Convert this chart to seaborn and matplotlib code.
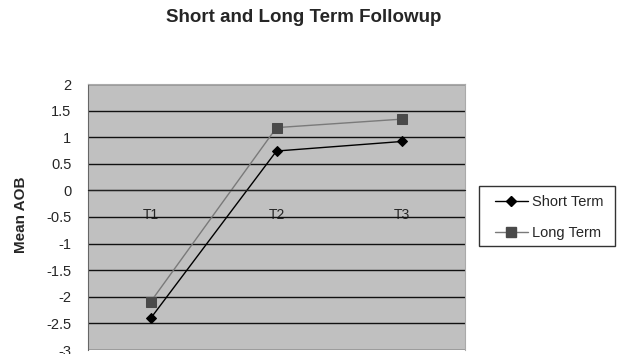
import matplotlib
matplotlib.use("Agg")
import matplotlib.pyplot as plt
import seaborn as sns
import pandas as pd
from matplotlib.ticker import FixedLocator
from matplotlib.lines import Line2D
from matplotlib.patches import Rectangle

categories = ["T1", "T2", "T3"]
short_term = [-2.40, 0.74, 0.92]
long_term = [-2.09, 1.18, 1.34]
series_names = ["Short Term", "Long Term"]
y_ticks = [2, 1.5, 1, 0.5, 0, -0.5, -1, -1.5, -2, -2.5, -3]

df = pd.DataFrame({
    "pos": list(range(len(categories))) * 2,
    "value": short_term + long_term,
    "series": [series_names[0]] * 3 + [series_names[1]] * 3,
})

sns.set_style("white")
plt.rcParams["font.family"] = ["Liberation Sans", "DejaVu Sans"]

W, H = 617, 354
fig = plt.figure(figsize=(W / 100, H / 100), dpi=100)
ax = fig.add_axes([88 / W, (H - 350) / H, (465 - 88) / W, (350 - 84) / H])
ax.set_facecolor("#c0c0c0")

sns.lineplot(data=df, x="pos", y="value", hue="series", style="series",
             palette={"Short Term": "#000000", "Long Term": "#7a7a7a"},
             markers={"Short Term": "D", "Long Term": "s"}, dashes=False,
             markersize=6, linewidth=1.0, ax=ax, legend=False)
for line, mfc, ms in zip(ax.get_lines(), ["#000000", "#4a4a4a"], [5, 7]):
    line.set_markerfacecolor(mfc)
    line.set_markeredgecolor(mfc)
    line.set_markersize(ms)

ax.set_xlim(-0.5, 2.5)
ax.set_ylim(-3, 2)
ax.set_yticks(y_ticks)
ax.set_yticklabels([f"{v:g}" for v in y_ticks], fontsize=10.5)
ax.yaxis.grid(True, color="#111111", linewidth=1.0)
ax.set_axisbelow(True)

ax.set_xticks(range(len(categories)))
ax.set_xticklabels(categories, fontsize=10.5, color="#222222")
ax.xaxis.set_minor_locator(FixedLocator([0.5, 1.5]))
ax.tick_params(axis="x", which="major", length=0, pad=13)
ax.tick_params(axis="x", which="minor", length=4, direction="out", color="#222222")
ax.tick_params(axis="y", length=6, direction="out", color="#444444", pad=6)

ax.spines["bottom"].set_position(("data", 0))
ax.spines["bottom"].set_color("#222222")
ax.spines["left"].set_color("#666666")
ax.spines["top"].set_color("#aaaaaa")
ax.spines["right"].set_color("#aaaaaa")

ax.set_ylabel("")
ax.set_xlabel("")
fig.text(21 / W, 1 - 215 / H, "Mean AOB", rotation=90, ha="center", va="center",
         fontsize=11, fontweight="bold")
fig.text(304 / W, 1 - 18 / H, "Short and Long Term Followup", ha="center", va="center",
         fontsize=13.5, fontweight="bold")

# legend frame
fig.patches.append(Rectangle((479 / W, 1 - 246 / H), (615 - 479) / W, 60 / H,
                             transform=fig.transFigure, facecolor="white",
                             edgecolor="#333333", linewidth=1.0, zorder=1))
handles = [
    Line2D([], [], color="#000000", marker="D", markersize=5, linewidth=1.0),
    Line2D([], [], color="#7a7a7a", marker="s", markersize=7, linewidth=1.0,
           markerfacecolor="#4a4a4a", markeredgecolor="#4a4a4a"),
]
leg = fig.legend(handles, series_names, loc="upper left",
                 bbox_to_anchor=(495 / W, 1 - 195 / H), frameon=False,
                 fontsize=10.5, handlelength=2.25, labelspacing=1.15, borderpad=0,
                 handletextpad=0.3, borderaxespad=0)
leg.set_zorder(2)

fig.savefig("out.png", dpi=100)
